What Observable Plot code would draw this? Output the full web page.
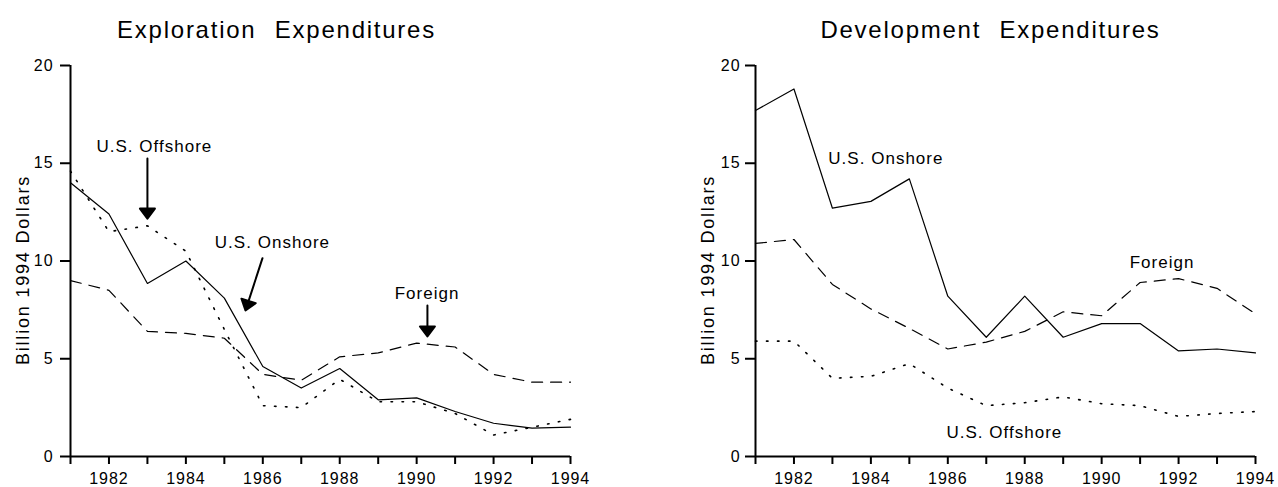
<!DOCTYPE html>
<html>
<head>
<meta charset="utf-8">
<script src="https://cdn.jsdelivr.net/npm/d3@7"></script>
<script src="https://cdn.jsdelivr.net/npm/@observablehq/plot@0.6"></script>
<style>
  html, body { margin: 0; padding: 0; background: #fff; }
  #wrap { position: relative; width: 1278px; height: 487px; overflow: hidden; }
  #wrap svg { position: absolute; top: 0; overflow: visible; }
  #wrap svg text { letter-spacing: 0.06em; }
  #wrap svg g[font-size="24"] text { letter-spacing: 1.75px; word-spacing: 10px; }
  #wrap svg g[font-size="18"] text { letter-spacing: 0.1em; }
</style>
</head>
<body>
<div id="wrap"></div>
<script>
// Years on the x axis
const years = [1981, 1982, 1983, 1984, 1985, 1986, 1987, 1988, 1989, 1990, 1991, 1992, 1993, 1994];
const yTicks = [0, 5, 10, 15, 20];

// Exploration expenditures, billion 1994 dollars
const exploreOnshore  = [14.0, 12.4, 8.85, 10.0, 8.1, 4.6, 3.5, 4.5, 2.9, 3.0, 2.3, 1.7, 1.45, 1.5];
const exploreOffshore = [14.6, 11.5, 11.8, 10.5, 6.5, 2.6, 2.5, 3.95, 2.8, 2.8, 2.2, 1.1, 1.5, 1.9];
const exploreForeign  = [9.0, 8.5, 6.4, 6.3, 6.05, 4.2, 3.9, 5.1, 5.3, 5.8, 5.6, 4.2, 3.8, 3.8];

// Development expenditures, billion 1994 dollars
const developOnshore  = [17.7, 18.8, 12.7, 13.05, 14.2, 8.2, 6.1, 8.2, 6.1, 6.8, 6.8, 5.4, 5.5, 5.3];
const developOffshore = [5.9, 5.9, 4.0, 4.1, 4.75, 3.5, 2.6, 2.75, 3.05, 2.7, 2.6, 2.05, 2.2, 2.3];
const developForeign  = [10.9, 11.1, 8.8, 7.55, 6.55, 5.5, 5.85, 6.4, 7.4, 7.2, 8.9, 9.1, 8.6, 7.3];

// Series labels, placed at (year, value) of the text baseline centre
const exploreLabels = [
  {text: "U.S. Offshore", year: 1983.18, value: 15.6},
  {text: "U.S. Onshore",  year: 1986.25, value: 10.64},
  {text: "Foreign",       year: 1990.27, value: 8.08}
];
const developLabels = [
  {text: "U.S. Onshore",  year: 1984.39, value: 14.94},
  {text: "Foreign",       year: 1991.57, value: 9.62},
  {text: "U.S. Offshore", year: 1987.47, value: 0.97}
];

// Pointer arrows: tip position, shaft length (px) and direction (degrees, clockwise from up)
const exploreArrows = [
  {year: 1983.0,  value: 12.17, len: 60, angle: 180},
  {year: 1985.55, value: 7.47,  len: 55, angle: 198},
  {year: 1990.28, value: 6.14,  len: 31, angle: 180}
];

const rows = (values) => years.map((year, i) => ({year, value: values[i]}));

// Filled-head arrow drawn pointing up from the origin
const arrowShape = {
  draw(ctx, l) {
    ctx.moveTo(0, 0);
    ctx.lineTo(0, -l + 8);
    ctx.moveTo(-7.5, -l + 10);
    ctx.lineTo(0, -l);
    ctx.lineTo(7.5, -l + 10);
    ctx.closePath();
  }
};

const FONT = "'Liberation Sans', Arial, Helvetica, sans-serif";

function panel({title, titleDx, onshore, offshore, foreign, labels, arrows, marginLeft, marginRight, tickPad}) {
  return Plot.plot({
    width: 639,
    height: 487,
    marginLeft,
    marginRight,
    marginTop: 65,
    marginBottom: 31,
    style: {fontFamily: FONT, color: "black", background: "white"},
    x: {domain: [1981, 1994]},
    y: {domain: [0, 20]},
    marks: [
      Plot.axisX({
        ticks: years, tickSize: 8, tickPadding: 8, fontSize: 16, strokeWidth: 2,
        tickFormat: (d) => (d % 2 === 0 ? String(d) : ""), label: null
      }),
      Plot.axisY({
        ticks: yTicks, tickSize: 10, tickPadding: tickPad, fontSize: 16, strokeWidth: 2, label: null
      }),
      Plot.ruleX([1981], {strokeWidth: 2}),
      Plot.ruleY([0], {strokeWidth: 2}),
      Plot.line(rows(onshore), {x: "year", y: "value", stroke: "black", strokeWidth: 1.2}),
      Plot.line(rows(foreign), {x: "year", y: "value", stroke: "black", strokeWidth: 1.2, strokeDasharray: "11,8"}),
      Plot.line(rows(offshore), {x: "year", y: "value", stroke: "black", strokeWidth: 1.6, strokeDasharray: "1.5,9.5"}),
      Plot.text(labels, {
        x: "year", y: "value", text: "text", textAnchor: "middle", lineAnchor: "bottom",
        fontSize: 17, fill: "black"
      }),
      ...arrows.map((a) => Plot.vector([a], {
        x: "year", y: "value", length: a.len, rotate: a.angle, anchor: "end",
        shape: arrowShape, stroke: "black", fill: "black", strokeWidth: 2
      })),
      Plot.text([title], {
        frameAnchor: "top", textAnchor: "middle", dx: titleDx, dy: -28, lineAnchor: "bottom",
        fontSize: 24, fill: "black"
      }),
      Plot.text(["Billion 1994 Dollars"], {
        frameAnchor: "left", textAnchor: "middle", rotate: -90, dx: -42, dy: 9, lineAnchor: "bottom",
        fontSize: 18, fill: "black"
      })
    ]
  });
}

const left = panel({
  title: "Exploration Expenditures", titleDx: -44,
  onshore: exploreOnshore, offshore: exploreOffshore, foreign: exploreForeign,
  labels: exploreLabels, arrows: exploreArrows,
  marginLeft: 70, marginRight: 69, tickPad: 7
});
const right = panel({
  title: "Development Expenditures", titleDx: -15,
  onshore: developOnshore, offshore: developOffshore, foreign: developForeign,
  labels: developLabels, arrows: [],
  marginLeft: 116, marginRight: 23, tickPad: 5
});

left.style.left = "0px";
right.style.left = "639px";
const wrap = document.getElementById("wrap");
wrap.appendChild(left);
wrap.appendChild(right);
</script>
</body>
</html>
